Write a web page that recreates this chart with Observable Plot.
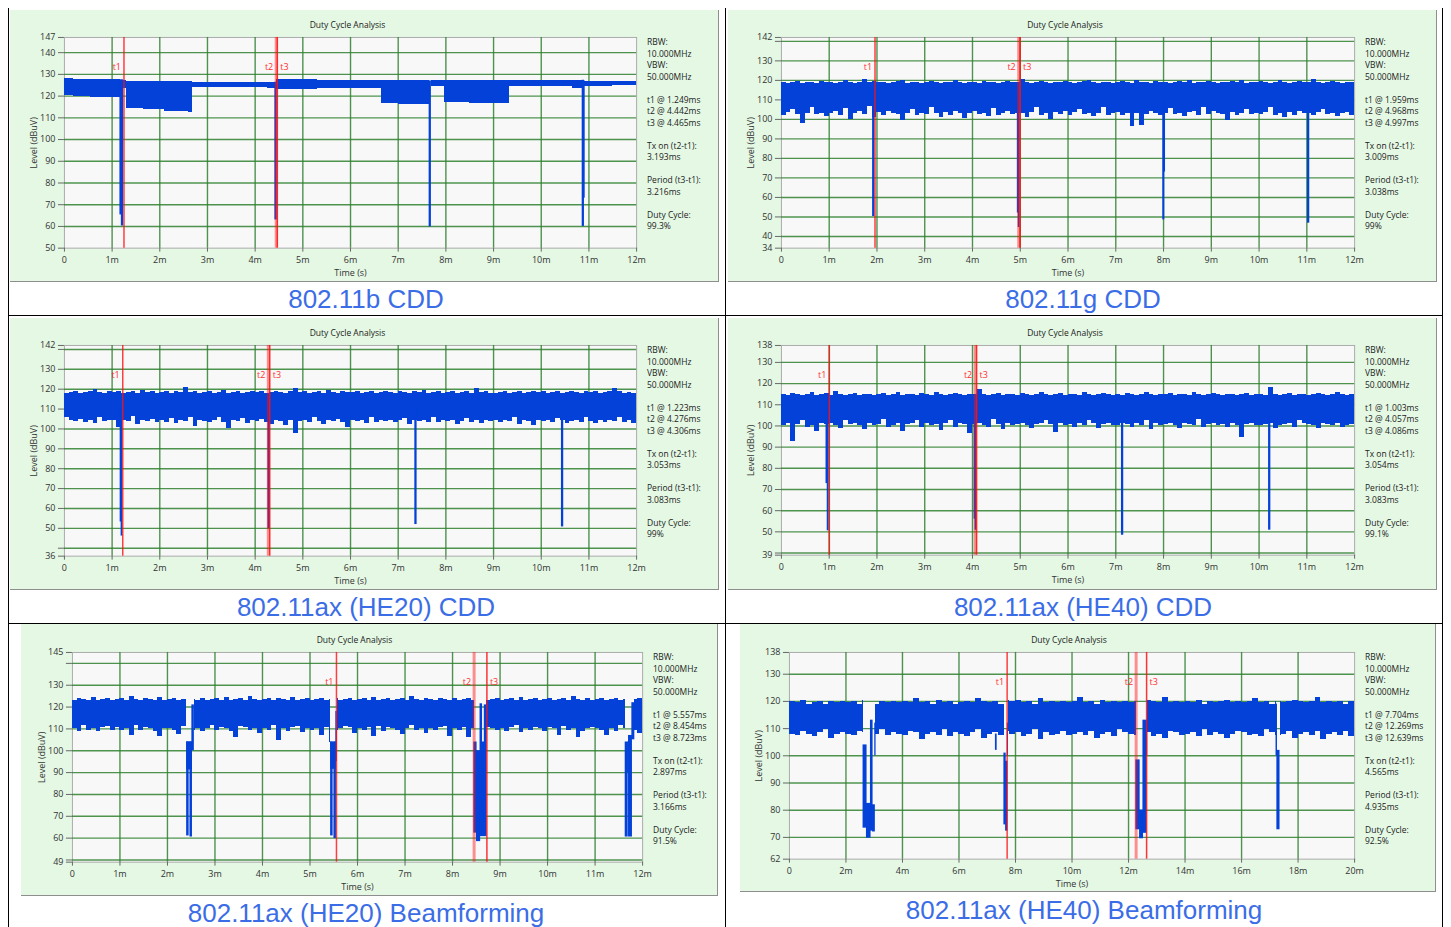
<!DOCTYPE html>
<html>
<head>
<meta charset="utf-8">
<script src="https://cdn.jsdelivr.net/npm/d3@7"></script>
<script src="https://cdn.jsdelivr.net/npm/@observablehq/plot@0.6"></script>
<style>
  html, body { margin: 0; padding: 0; background: #fff; }
  body { position: relative; width: 1451px; height: 927px; overflow: hidden;
         font-family: "Segoe UI", "Open Sans", "Noto Sans", sans-serif; }
  .panel { position: absolute; background: #e4f8e4; box-sizing: border-box;
           border-right: 1px solid #8e8e8e; border-bottom: 1px solid #8e8e8e; }
  .panel svg { position: absolute; left: 0; top: 0; overflow: visible; }
  .ptitle { position: absolute; font-size: 8.5px; color: #222; white-space: nowrap;
            transform: translate(-50%, -50%); }
  .info { position: absolute; font-size: 8.5px; line-height: 11.5px; color: #222; white-space: pre; }
  .caption { position: absolute; font-family: "Liberation Sans", Arial, sans-serif; font-size: 26px;
             line-height: 26px; color: #3b6de6; white-space: nowrap; transform: translateX(-50%); }
  .line { position: absolute; background: #000; }
</style>
</head>
<body>
<script>
// ---------------- measurement data ----------------
const markerNames = ["t1", "t2", "t3"];
const rbw = "10.000MHz";
const vbw = "50.000MHz";

const xTicks12 = [0, 1, 2, 3, 4, 5, 6, 7, 8, 9, 10, 11, 12];
const xGrid12 = [1, 2, 3, 4, 5, 6, 7, 8, 9, 10, 11];
const xTicks20 = [0, 2, 4, 6, 8, 10, 12, 14, 16, 18, 20];
const xGrid20 = [2, 4, 6, 8, 10, 12, 14, 16, 18];

// 802.11b CDD: level envelope per segment [start ms, end ms, low dBuV, high dBuV]
const bSegments = [
  [0.00, 0.20, 120.2, 128.0], [0.20, 0.55, 120.0, 127.6], [0.55, 1.17, 119.4, 127.5],
  [1.235, 1.31, 123.6, 127.3], [1.31, 1.65, 114.3, 126.9], [1.65, 2.10, 113.7, 126.9],
  [2.10, 2.60, 113.1, 126.9], [2.60, 2.68, 112.6, 126.9], [2.68, 4.25, 124.0, 126.4],
  [4.25, 4.42, 123.4, 126.4], [4.455, 5.30, 122.9, 127.5], [5.30, 6.65, 123.3, 127.3],
  [6.65, 7.00, 116.8, 127.0], [7.00, 7.655, 116.3, 127.0], [7.69, 7.98, 124.3, 127.2],
  [7.98, 8.50, 117.2, 127.2], [8.50, 9.33, 116.8, 127.2], [9.33, 10.65, 124.3, 127.3],
  [10.65, 10.865, 123.3, 127.3], [10.915, 11.50, 124.4, 126.8], [11.50, 12.00, 125.0, 126.7]
];
const bDips = [
  [1.17, 1.20, 65.3, 127.5], [1.20, 1.235, 60.2, 127.5], [4.42, 4.455, 63.0, 126.4],
  [7.655, 7.69, 59.8, 127.0], [10.865, 10.90, 60.0, 127.3], [10.90, 10.915, 73.0, 127.0]
];
const bMarkers = [1.249, 4.442, 4.465];
const bYLabels = [147, 140, 130, 120, 110, 100, 90, 80, 70, 60, 50];
const bYGrid = [140, 130, 120, 110, 100, 90, 80, 70, 60];

// 802.11g CDD: upper / lower envelope per 0.1 ms
const gHi = [
  119, 118.5, 119, 119.5, 118.5, 119, 119, 118.5, 119.5, 119,
  119, 118.5, 119, 120, 119, 118.5, 119, 120.5, 119, 119.5,
  119, 119, 118.5, 119, 119.5, 120, 118.5, 119, 119, 118.5,
  119, 119.5, 119, 118.5, 119, 119, 120, 119, 118.5, 119,
  119, 118.5, 119.5, 119, 119, 118.5, 119, 119.5, 119, 119,
  120.5, 119, 118.5, 119, 119.5, 119, 118.5, 119, 119, 119.5,
  119, 118.5, 119, 119.5, 120, 119, 118.5, 119, 119, 118.5,
  119, 119.5, 119, 118.5, 120, 119, 119, 118.5, 119.5, 119,
  119, 118.5, 119, 119.5, 119, 120, 118.5, 119, 119, 119.5,
  119, 118.5, 119, 119, 119.5, 119, 120, 118.5, 119, 119,
  119.5, 119, 118.5, 119, 120, 119, 118.5, 119, 119.5, 119,
  119, 120.5, 119, 118.5, 119, 119.5, 119, 118.5, 119, 119
];
const gLo = [
  102, 103.5, 105, 102.5, 98, 103, 106, 102.5, 103, 101.5,
  103, 104, 102, 105.5, 100, 103, 104, 102.5, 106.5, 101,
  103.5, 102, 104, 103, 102.5, 99.5, 103, 105, 102, 103,
  102.5, 106, 103, 101, 103.5, 102, 104, 103, 100.5, 103,
  104, 102.5, 103, 101.5, 105.5, 102, 103, 104, 102.5, 103,
  103, 101, 103.5, 106, 102, 103, 100, 103.5, 102.5, 104,
  102, 103.5, 105, 102.5, 103, 101.5, 103, 106, 102, 103,
  103.5, 102, 103, 96.5, 103, 97, 102.5, 104, 103, 102,
  103, 105.5, 102.5, 103, 101.5, 103.5, 104, 102, 106, 102.5,
  104, 103, 102.5, 99.5, 103.5, 102, 103, 105, 102.5, 103,
  102.5, 103.5, 106, 102, 103, 101, 103.5, 102, 104, 103,
  103, 102, 103.5, 105, 102.5, 103, 101.5, 103, 103.5, 102
];
const gDips = [
  [1.915, 1.95, 50.2, 110], [4.945, 4.965, 52.0, 110], [4.965, 4.985, 44.6, 110],
  [7.99, 8.02, 48.5, 110], [8.02, 8.035, 73.0, 110], [11.02, 11.055, 46.8, 110]
];
const gMarkers = [1.959, 4.968, 4.997];
const gYLabels = [142, 130, 120, 110, 100, 90, 80, 70, 60, 50, 40, 34];
const gYGrid = [140, 130, 120, 110, 100, 90, 80, 70, 60, 50, 40];

// 802.11ax (HE20) CDD
const h20Hi = [
  118, 118.5, 119, 118, 118.5, 119, 120, 118.5, 118, 119,
  118.5, 119, 118, 118.5, 119, 118, 119.5, 118.5, 119, 118,
  118.5, 119, 118, 119, 118.5, 121, 118.5, 119, 118, 118.5,
  119, 118, 118.5, 119.5, 118, 118.5, 119, 118, 118.5, 119,
  118.5, 119, 118, 118.5, 119, 118.5, 118, 119, 120.5, 118.5,
  119, 118, 118.5, 119, 118, 119.5, 118.5, 118, 119, 118.5,
  118.5, 119, 118, 118.5, 119, 118, 118.5, 119, 118.5, 118,
  119, 118.5, 118, 119, 118.5, 119.5, 118, 118.5, 119, 118,
  118.5, 119, 118, 118.5, 119, 118, 120.5, 118.5, 119, 118,
  118, 118.5, 119, 118, 118.5, 119, 118, 118.5, 119, 118.5,
  119, 118, 118.5, 119, 118, 118.5, 119, 118.5, 118, 119,
  118.5, 119, 118, 118.5, 119, 120.5, 119, 118, 118.5, 118
];
const h20Lo = [
  106, 104, 103.5, 105, 103, 104, 102.5, 106, 103.5, 104,
  104, 100.5, 104, 103.5, 106.5, 102, 104, 103.5, 105, 103,
  104.5, 103, 105.5, 102.5, 104, 103.5, 106, 101, 104, 103.5,
  103, 104, 106, 103, 100, 104, 103.5, 105.5, 102.5, 104,
  103.5, 105, 103, 102, 104, 103.5, 101.5, 104, 97.5, 103.5,
  104, 103, 106, 103.5, 102, 104, 103.5, 105, 103, 100.5,
  104, 103.5, 104, 102.5, 106, 103, 104.5, 103.5, 104, 103,
  104, 105.5, 102, 104, 103.5, 104, 103, 106, 103, 104,
  103.5, 104, 102, 103.5, 105.5, 103, 104.5, 102.5, 104, 103.5,
  104, 103, 104.5, 103.5, 106, 102, 104, 103.5, 101.5, 104,
  103.5, 104, 103, 105.5, 104, 102.5, 103.5, 104, 103, 106,
  103.5, 102.5, 104, 103, 104.5, 103.5, 106, 103, 104, 102.5
];
const h20Dips = [
  [1.175, 1.195, 53.2, 110], [1.195, 1.215, 46.1, 110], [4.275, 4.31, 49.8, 110],
  [7.355, 7.39, 51.9, 110], [10.43, 10.465, 50.7, 110]
];
const h20Markers = [1.223, 4.276, 4.306];
const h20YLabels = [142, 130, 120, 110, 100, 90, 80, 70, 60, 50, 36];
const h20YGrid = [140, 130, 120, 110, 100, 90, 80, 70, 60, 50, 40];

// 802.11ax (HE40) CDD
const h40Hi = [
  115, 114.5, 115.5, 115, 114.5, 115, 116, 114.5, 115, 115.5,
  114.5, 116.5, 115, 114.5, 115, 115.5, 114.5, 115, 115, 114.5,
  115, 115.5, 114.5, 115, 116, 114.5, 115, 115, 114.5, 115.5,
  115, 114.5, 116, 115, 114.5, 115, 115.5, 115, 114.5, 115,
  115, 117, 115, 114.5, 115, 115.5, 114.5, 115, 115, 114.5,
  115.5, 115, 114.5, 115, 116, 115, 114.5, 115, 115.5, 114.5,
  115, 115, 114.5, 116, 115, 114.5, 115, 115.5, 115, 114.5,
  115, 114.5, 115.5, 115, 114.5, 115, 116, 115, 114.5, 115,
  115, 115.5, 114.5, 115, 115, 114.5, 116, 115, 114.5, 115,
  115.5, 115, 114.5, 115, 115, 114.5, 115, 115.5, 114.5, 115,
  115, 114.5, 118, 115, 114.5, 115, 115.5, 114.5, 115, 115,
  114.5, 115, 115.5, 115, 114.5, 115, 116, 115, 114.5, 115
];
const h40Lo = [
  100, 101, 92.5, 100.5, 102.5, 99.5, 100, 97.5, 101, 100.5,
  101, 100, 99, 102.5, 100.5, 101, 100, 98.5, 101, 100,
  100.5, 103, 99.5, 100, 101, 97.5, 100.5, 101, 102.5, 99.5,
  101, 100, 100.5, 98, 101, 102.5, 99.5, 101, 100.5, 96.5,
  100.5, 101, 100, 99.5, 103, 100.5, 98.5, 101, 100, 100.5,
  101, 100, 99, 100.5, 101, 102.5, 100.5, 97, 101, 100,
  100.5, 99.5, 101, 100, 102.5, 101, 99, 100.5, 101, 100,
  100, 101, 100.5, 99.5, 101, 100, 102.5, 98.5, 101, 100,
  100.5, 101, 100, 99, 101, 100.5, 100, 103, 99.5, 100.5,
  101, 100, 100.5, 99.5, 101, 100, 94.5, 100.5, 101, 100,
  100, 100.5, 101, 99, 100, 100.5, 101, 99.5, 102.5, 101,
  100.5, 100, 99, 101, 100.5, 100, 101, 99.5, 100, 100.5
];
const h40Dips = [
  [0.94, 0.965, 72.8, 108], [0.965, 0.99, 50.5, 108], [4.04, 4.06, 56.0, 108],
  [4.06, 4.08, 50.8, 108], [7.125, 7.16, 48.4, 108], [10.205, 10.24, 50.8, 108]
];
const h40Markers = [1.003, 4.057, 4.086];
const h40YLabels = [138, 130, 120, 110, 100, 90, 80, 70, 60, 50, 39];
const h40YGrid = [130, 120, 110, 100, 90, 80, 70, 60, 50, 40];

// 802.11ax (HE20) Beamforming
const bf20Hi = [
  123, 124, 123.5, 123, 124.5, 123, 123.5, 124, 123, 123.5,
  124, 123, 125, 123.5, 123, 124, 123.5, 123, 124.5, 123,
  123.5, 124, 123, 123.5, 124, 123.5, 123, 124, 123, 123.5,
  124, 123, 124.5, 123, 123.5, 124, 123, 125, 123.5, 123,
  123.5, 124, 123, 124, 123.5, 123, 124.5, 123, 123.5, 124,
  123, 123.5, 124, 123, 123.5, 124, 123, 123.5, 124, 123,
  123.5, 124, 123, 124.5, 123, 123.5, 124, 123, 123.5, 124,
  123, 125, 123.5, 123, 124, 123.5, 123, 124, 123.5, 123,
  124, 123, 123.5, 124, 123, 123.5, 124, 123, 123.5, 124,
  123, 123.5, 124, 123, 124.5, 123, 123.5, 124, 123, 123.5,
  124, 123, 123.5, 124, 123, 125, 123.5, 123, 124, 123,
  123.5, 124, 123, 123.5, 124, 123, 123.5, 124, 123.5, 124
];
const bf20Lo = [
  110, 109, 111.5, 109.5, 110, 109, 110.5, 111, 109.5, 110.5,
  109.5, 110, 107, 111.5, 109.5, 110.5, 110, 109, 106.5, 110,
  110, 109.5, 107.5, 111, 110.5, 109.5, 110, 109, 110, 111.5,
  109.5, 110.5, 110, 109, 106, 111, 110.5, 109.5, 110, 108,
  110, 109.5, 111.5, 104.5, 110, 109, 110.5, 111, 108.5, 110,
  109.5, 110, 107, 110.5, 104, 109.5, 110, 111, 110.5, 108,
  110, 109.5, 110.5, 106.5, 111, 109, 110.5, 110, 109.5, 107.5,
  110, 111.5, 109.5, 110, 108, 110, 109.5, 110.5, 111, 106.5,
  110, 109.5, 110.5, 106, 110, 109, 111, 110.5, 110, 109.5,
  110, 109, 110.5, 111.5, 108.5, 110, 109.5, 110.5, 110, 109,
  110.5, 110, 107, 111, 109.5, 110, 106, 109, 110, 110.5,
  110, 109.5, 107, 110, 109, 111.5, 110, 110, 109.5, 108
];
// transmit bursts [start ms, end ms]
const bf20Bursts = [[0, 2.41], [2.56, 5.44], [5.57, 8.455], [8.72, 11.64], [11.83, 12]];
const bf20Dips = [
  [2.41, 2.52, 91.2, 104.1], [2.41, 2.45, 61.0, 104], [2.48, 2.52, 60.5, 104], [2.52, 2.56, 100, 121],
  [5.44, 5.55, 91.5, 104], [5.44, 5.48, 61.0, 104], [5.51, 5.55, 59.8, 104], [5.55, 5.57, 95, 118],
  [8.455, 8.51, 62.3, 104], [8.51, 8.585, 58.4, 100], [8.585, 8.625, 60.7, 121.5],
  [8.625, 8.675, 60.7, 104], [8.675, 8.72, 60.7, 121],
  [11.64, 11.69, 60.5, 104], [11.69, 11.71, 90, 104], [11.71, 11.78, 60.5, 107], [11.78, 11.83, 105, 122]
];
const bf20Markers = [5.557, 8.454, 8.723];
const bf20YLabels = [145, 130, 120, 110, 100, 90, 80, 70, 60, 49];
const bf20YGrid = [140, 130, 120, 110, 100, 90, 80, 70, 60, 50];

// 802.11ax (HE40) Beamforming: envelope per 0.2 ms
const bf40Hi = [
  120, 119.5, 120.5, 119, 119.5, 120, 119, 120, 119.5, 120,
  119.5, 120, 119, 120.5, 119.5, 119, 120, 119.5, 120, 119.5,
  120, 119.5, 121, 119.5, 120, 119, 120.5, 119.5, 120, 119,
  119.5, 120, 119.5, 121, 120, 119.5, 120, 119, 120.5, 120,
  120.5, 119.5, 120, 119, 121, 119.5, 120, 119.5, 120, 119.5,
  120, 121.5, 119.5, 120, 119, 120.5, 119.5, 120, 119.5, 120,
  119.5, 120, 119, 120.5, 120, 119.5, 121.5, 119.5, 120, 119.5,
  120, 119.5, 120.5, 119, 120, 119.5, 120, 120.5, 119.5, 120,
  119.5, 120, 121, 119.5, 120, 119, 120, 119.5, 120, 120.5,
  120, 119.5, 120, 121.5, 119.5, 120, 119.5, 120, 119, 120
];
const bf40Lo = [
  108, 107.5, 109, 108, 107, 108.5, 109.5, 106.5, 108, 108.5,
  108, 107.5, 109, 108.5, 107, 108, 109.5, 107.5, 108.5, 108,
  107.5, 109, 108.5, 106, 108, 108.5, 107.5, 109.5, 107, 108.5,
  108, 107, 108.5, 109.5, 106.5, 108, 108.5, 107.5, 109, 108,
  108.5, 107, 108, 109.5, 106, 108.5, 107.5, 108, 109, 107.5,
  108, 108.5, 107.5, 109, 106.5, 108, 108.5, 107, 109.5, 108.5,
  108, 107.5, 109, 108.5, 107, 108, 106.5, 109, 108.5, 107.5,
  108, 108.5, 107, 109.5, 107.5, 108.5, 108, 106.5, 108, 109,
  108.5, 107.5, 108, 107, 109.5, 108.5, 107.5, 108, 109, 106.5,
  108, 108.5, 107.5, 109, 106, 108, 108.5, 107.5, 109, 107
];
const bf40Bursts = [[0, 2.616], [3.055, 7.60], [7.74, 12.27], [12.67, 17.23], [17.38, 20]];
const bf40Dips = [
  [2.616, 2.736, 73.4, 104], [2.736, 2.878, 69.7, 82.5], [2.878, 2.949, 72.3, 113.1],
  [2.949, 3.03, 72.0, 82.0], [3.03, 3.055, 100, 112], [7.30, 7.34, 102, 108],
  [7.60, 7.66, 74.6, 101], [7.66, 7.72, 72.3, 98], [7.72, 7.74, 100, 112],
  [12.27, 12.40, 72.8, 98.5], [12.40, 12.52, 69.5, 80], [12.52, 12.64, 71.5, 113.1],
  [12.64, 12.67, 100, 113], [17.23, 17.26, 100, 119], [17.26, 17.35, 72.8, 102]
];
const bf40Markers = [7.704, 12.269, 12.639];
const bf40YLabels = [138, 130, 120, 110, 100, 90, 80, 70, 62];
const bf40YGrid = [130, 120, 110, 100, 90, 80, 70];

// ---------------- helpers ----------------
// Turn per-bin envelopes into [start, end, low, high] blocks, clipped to the transmit bursts.
function binsToSegments(hi, lo, step, bursts) {
  const out = [];
  hi.forEach((h, i) => {
    const a = i * step, b = (i + 1) * step;
    for (const [s, e] of bursts) {
      const x1 = Math.max(a, s), x2 = Math.min(b, e);
      if (x2 > x1) out.push([x1, x2, lo[i], h]);
    }
  });
  return out;
}

const fmt3 = d3.format(".3f");
const fmtPct = v => d3.format(".1f")(v).replace(/\.0$/, "") + "%";

function infoText(m) {
  const txOn = m[1] - m[0], period = m[2] - m[0];
  return [
    "RBW:", rbw, "VBW:", vbw, "",
    `t1 @ ${fmt3(m[0])}ms`, `t2 @ ${fmt3(m[1])}ms`, `t3 @ ${fmt3(m[2])}ms`, "",
    "Tx on (t2-t1):", `${fmt3(txOn)}ms`, "",
    "Period (t3-t1):", `${fmt3(period)}ms`, "",
    "Duty Cycle:", fmtPct(txOn / period * 100)
  ].join("\n");
}

// ---------------- panels ----------------
const panels = [
  { caption: "802.11b CDD", left: 10, top: 10, w: 709, h: 272, ml: 54, mr: 82, mt: 27, mb: 34,
    capX: 366, capBase: 308, xMax: 12, xTicks: xTicks12, xGrid: xGrid12,
    yDomain: [50, 147], yLabels: bYLabels, yGrid: bYGrid,
    segments: bSegments, dips: bDips, markers: bMarkers },
  { caption: "802.11g CDD", left: 728, top: 10, w: 709, h: 272, ml: 53, mr: 82, mt: 27, mb: 34,
    capX: 1083, capBase: 308, xMax: 12, xTicks: xTicks12, xGrid: xGrid12,
    yDomain: [34, 142], yLabels: gYLabels, yGrid: gYGrid,
    segments: binsToSegments(gHi, gLo, 0.1, [[0, 12]]), dips: gDips, markers: gMarkers },
  { caption: "802.11ax (HE20) CDD", left: 10, top: 318, w: 709, h: 272, ml: 54, mr: 82, mt: 27, mb: 34,
    capX: 366, capBase: 616, xMax: 12, xTicks: xTicks12, xGrid: xGrid12,
    yDomain: [36, 142], yLabels: h20YLabels, yGrid: h20YGrid,
    segments: binsToSegments(h20Hi, h20Lo, 0.1, [[0, 12]]), dips: h20Dips, markers: h20Markers },
  { caption: "802.11ax (HE40) CDD", left: 728, top: 318, w: 709, h: 272, ml: 53, mr: 82, mt: 27, mb: 35,
    capX: 1083, capBase: 616, xMax: 12, xTicks: xTicks12, xGrid: xGrid12,
    yDomain: [39, 138], yLabels: h40YLabels, yGrid: h40YGrid,
    segments: binsToSegments(h40Hi, h40Lo, 0.1, [[0, 12]]), dips: h40Dips, markers: h40Markers },
  { caption: "802.11ax (HE20) Beamforming", left: 21, top: 624, w: 697, h: 272, ml: 51, mr: 75, mt: 28, mb: 34,
    capX: 366, capBase: 922, xMax: 12, xTicks: xTicks12, xGrid: xGrid12,
    yDomain: [49, 145], yLabels: bf20YLabels, yGrid: bf20YGrid,
    segments: binsToSegments(bf20Hi, bf20Lo, 0.1, bf20Bursts), dips: bf20Dips, markers: bf20Markers },
  { caption: "802.11ax (HE40) Beamforming", left: 740, top: 624, w: 696, h: 268, ml: 49, mr: 81, mt: 28, mb: 33,
    capX: 1084, capBase: 919, xMax: 20, xTicks: xTicks20, xGrid: xGrid20,
    yDomain: [62, 138], yLabels: bf40YLabels, yGrid: bf40YGrid,
    segments: binsToSegments(bf40Hi, bf40Lo, 0.2, bf40Bursts), dips: bf40Dips, markers: bf40Markers }
];

const traceBlue = "#0341d9";
const gridGreen = "#2f812f";
const red = "#ff1010";

function renderPanel(p) {
  const plotW = p.w - p.ml - p.mr;
  const div = document.createElement("div");
  div.className = "panel";
  Object.assign(div.style, { left: p.left + "px", top: p.top + "px", width: p.w + "px", height: p.h + "px" });

  const yTicks = Array.from(new Set([...p.yLabels, ...p.yGrid])).sort((a, b) => b - a);
  const m = p.markers;

  const svg = Plot.plot({
    width: p.w, height: p.h,
    marginLeft: p.ml, marginRight: p.mr, marginTop: p.mt, marginBottom: p.mb,
    style: { background: "transparent", fontSize: "9px", color: "#333", overflow: "visible",
             fontFamily: "'Segoe UI', 'Open Sans', 'Noto Sans', sans-serif" },
    x: { domain: [0, p.xMax] },
    y: { domain: p.yDomain },
    marks: [
      Plot.frame({ fill: "#f8f8f8", stroke: "#ababab" }),
      Plot.gridX(p.xGrid, { stroke: gridGreen, strokeOpacity: 0.85, strokeWidth: 1.4 }),
      Plot.gridY(p.yGrid, { stroke: gridGreen, strokeOpacity: 0.85, strokeWidth: 1.4 }),
      // signal envelope: blocks share edges, so crisp edges keep them seamless
      Plot.rect(p.segments, { x1: d => d[0], x2: d => d[1], y1: d => d[2], y2: d => d[3],
                              fill: traceBlue, shapeRendering: "crispEdges" }),
      Plot.rect(p.dips, { x1: d => d[0], x2: d => d[1], y1: d => d[2], y2: d => d[3],
                          fill: traceBlue, insetLeft: -0.3, insetRight: -0.3 }),
      // cursor lines t1, t2, t3
      Plot.ruleX([m[0]], { stroke: red, strokeWidth: 1.5, strokeOpacity: 0.8 }),
      Plot.ruleX([m[1]], { stroke: red, strokeWidth: 3, strokeOpacity: 0.45 }),
      Plot.ruleX([m[2]], { stroke: red, strokeWidth: 1.5, strokeOpacity: 0.85 }),
      Plot.text(markerNames.slice(0, 2), { x: (d, i) => m[i], text: d => d, frameAnchor: "top", dy: 26,
                                           dx: -3, textAnchor: "end", fill: "#ff3030", fontSize: 9 }),
      Plot.text(markerNames.slice(2), { x: () => m[2], text: d => d, frameAnchor: "top", dy: 26,
                                        dx: 3, textAnchor: "start", fill: "#ff3030", fontSize: 9 }),
      Plot.axisX({ ticks: p.xTicks, tickFormat: d => d === 0 ? "0" : `${d}m`, tickSize: 4, tickPadding: 4,
                   stroke: "#666", label: "Time (s)", labelAnchor: "center", labelOffset: 28, labelArrow: "none" }),
      Plot.axisY({ ticks: yTicks, tickFormat: d => p.yLabels.includes(d) ? String(d) : "", tickSize: 6,
                   tickPadding: 3, stroke: "#666", label: "Level (dBuV)", labelAnchor: "center",
                   labelOffset: 34, labelArrow: "none" })
    ]
  });
  div.appendChild(svg);

  const title = document.createElement("div");
  title.className = "ptitle";
  title.textContent = "Duty Cycle Analysis";
  title.style.left = (p.ml + plotW / 2 - 3) + "px";
  title.style.top = (p.mt - 13) + "px";
  div.appendChild(title);

  const info = document.createElement("div");
  info.className = "info";
  info.textContent = infoText(m);
  info.style.left = (p.ml + plotW + 10) + "px";
  info.style.top = (p.mt - 1) + "px";
  div.appendChild(info);

  document.body.appendChild(div);

  const cap = document.createElement("div");
  cap.className = "caption";
  cap.textContent = p.caption;
  cap.style.left = p.capX + "px";
  cap.style.top = (p.capBase - 22) + "px";
  document.body.appendChild(cap);
}

panels.forEach(renderPanel);

// table borders around the six figures
[
  { left: 7.5, top: 8, width: 1.5, height: 919 },
  { left: 724.5, top: 8, width: 1.5, height: 919 },
  { left: 1441.5, top: 8, width: 1.5, height: 919 },
  { left: 7.5, top: 314.5, width: 1435.5, height: 1.5 },
  { left: 7.5, top: 622.5, width: 1435.5, height: 1.5 }
].forEach(b => {
  const l = document.createElement("div");
  l.className = "line";
  Object.assign(l.style, { left: b.left + "px", top: b.top + "px", width: b.width + "px", height: b.height + "px" });
  document.body.appendChild(l);
});
</script>
</body>
</html>
